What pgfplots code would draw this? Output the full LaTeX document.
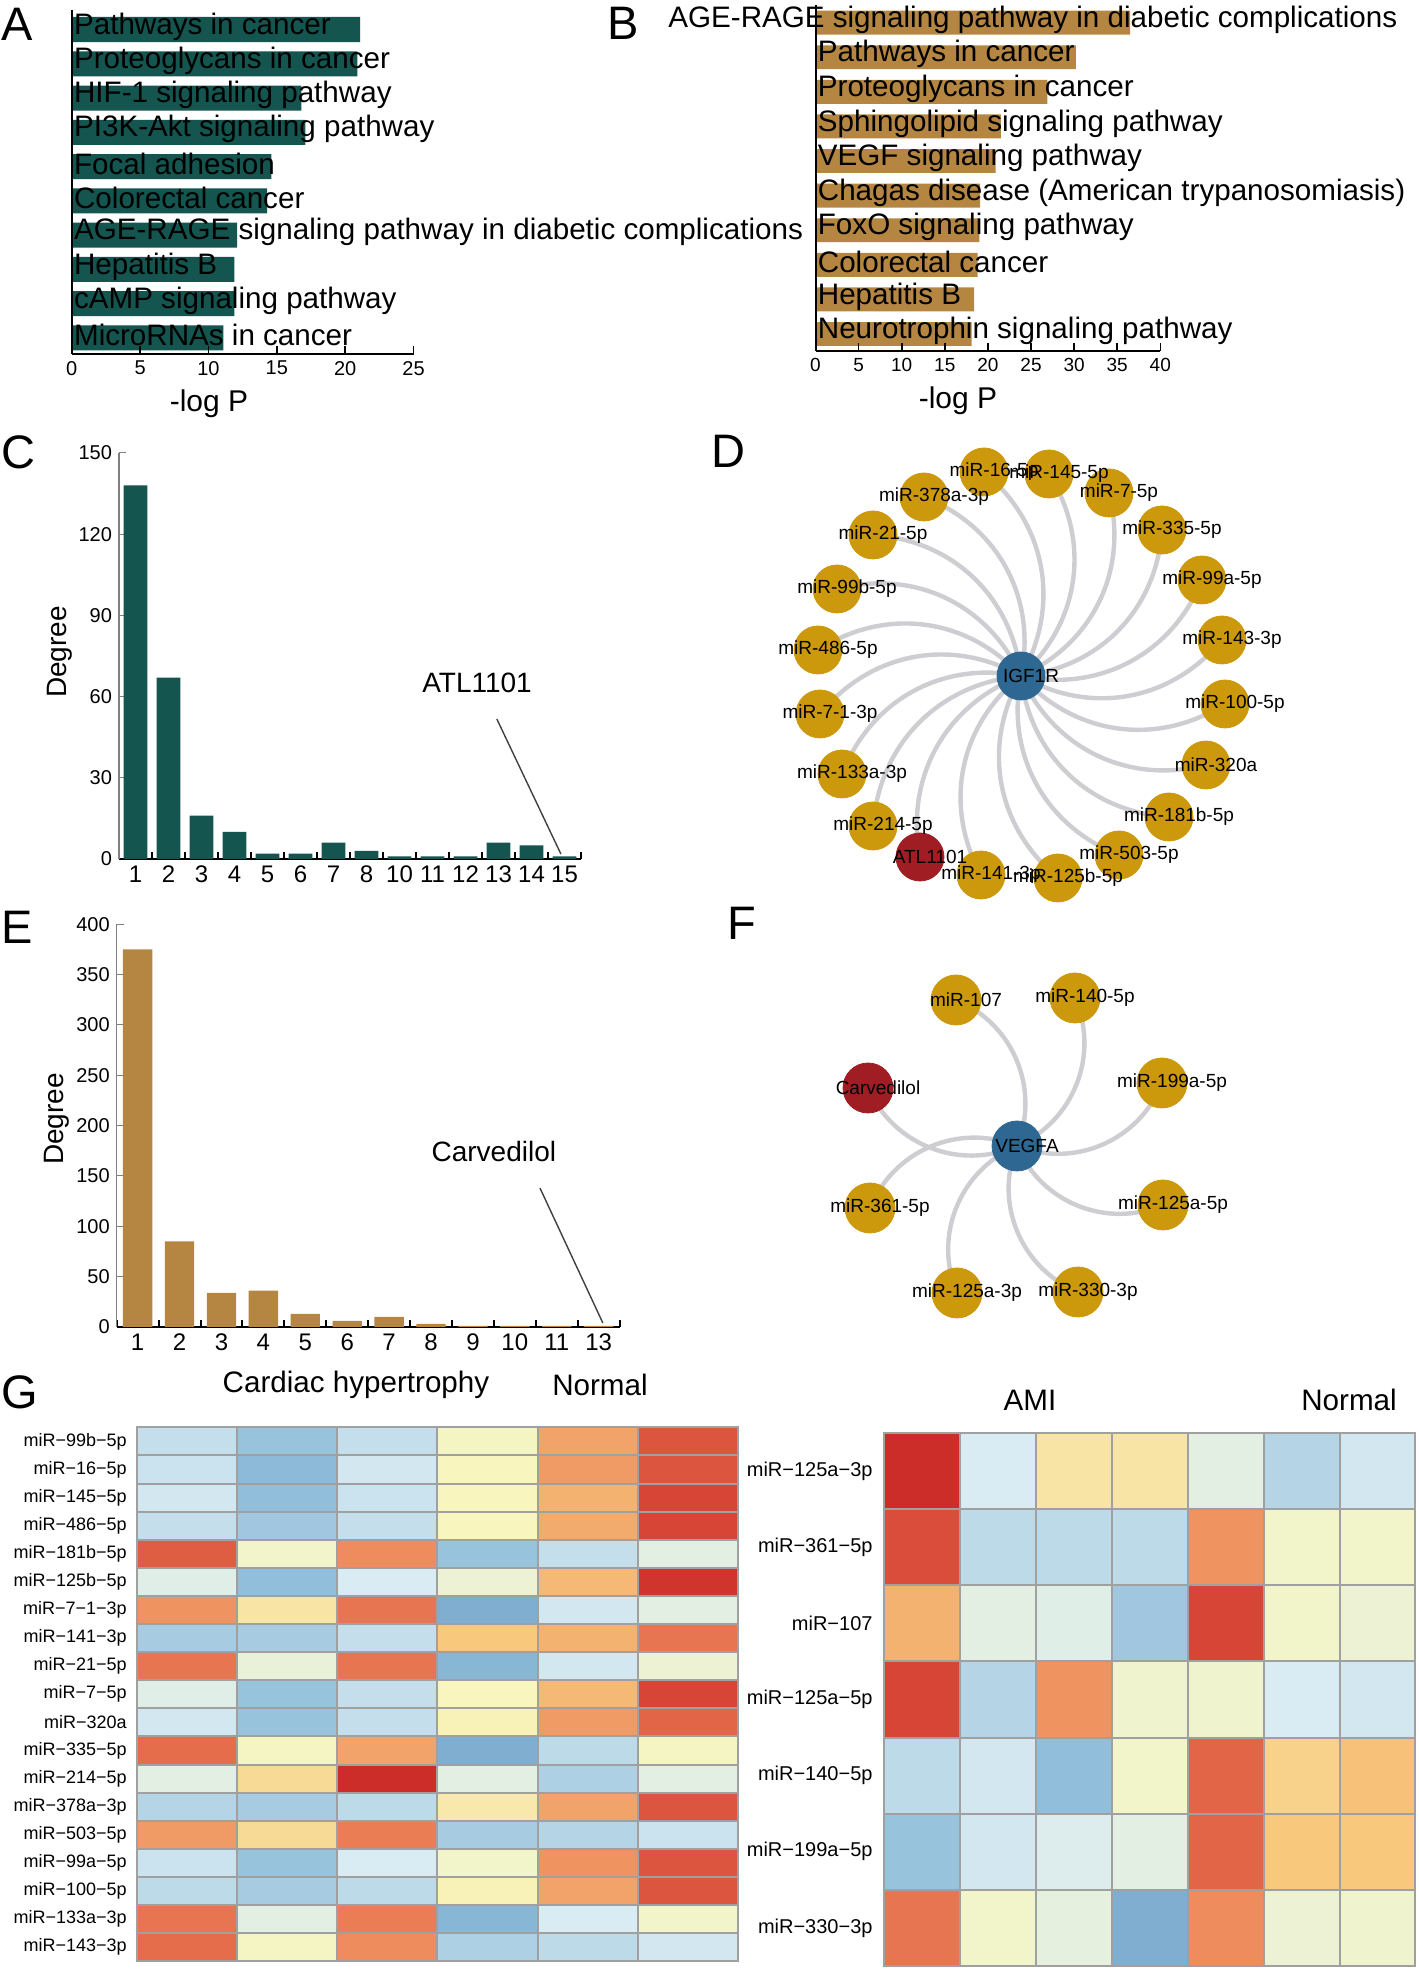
\documentclass[border=0pt]{standalone}
\usepackage{fontspec}
\setmainfont{Liberation Sans}
\usepackage{pgfplots}
\pgfplotsset{compat=1.18}
\definecolor{barA}{RGB}{20,85,80}
\definecolor{barB}{RGB}{180,134,66}
\definecolor{gold}{RGB}{204,152,12}
\definecolor{nblue}{RGB}{46,104,146}
\definecolor{nred}{RGB}{160,30,35}
\definecolor{egray}{RGB}{205,205,210}
\definecolor{hgrid}{RGB}{160,160,160}
\pgfplotsset{colormap={hm}{rgb255=(100,150,195) rgb255=(145,190,218) rgb255=(218,236,243) rgb255=(248,246,190) rgb255=(248,200,125) rgb255=(235,125,85) rgb255=(205,45,40)}}
\pgfplotsset{/pgf/number format/assume math mode=true}
\newcommand{\fs}[1]{\fontsize{#1}{#1}\selectfont}

\begin{document}
\begin{tikzpicture}[x=0.5pt,y=0.5pt]
\useasboundingbox (0,0) rectangle (1418,1969);
\coordinate (pA) at (71.7,1615);
\coordinate (pB) at (815.5,1618);
\coordinate (pC) at (119,1110);
\coordinate (pE) at (116.7,642);
\coordinate (pD) at (700,1064);
\coordinate (pF) at (700,629);
\coordinate (pGL) at (136.8,7.7);
\coordinate (pGR) at (884.4,3);

% panel letters
\node[anchor=base west, inner sep=0, font=\fs{23.5}] at (1,1928) {A};
\node[anchor=base west, inner sep=0, font=\fs{23.5}] at (607,1929) {B};
\node[anchor=base west, inner sep=0, font=\fs{23.5}] at (1,1500) {C};
\node[anchor=base west, inner sep=0, font=\fs{23.5}] at (711,1501) {D};
\node[anchor=base west, inner sep=0, font=\fs{23.5}] at (1,1025) {E};
\node[anchor=base west, inner sep=0, font=\fs{23.5}] at (727,1029) {F};
\node[anchor=base west, inner sep=0, font=\fs{23.5}] at (1,560) {G};

% ---------------- Panel A
\begin{axis}[
  at={(pA)}, anchor=south west, scale only axis,
  width=170.9pt, height=172pt,
  xbar, bar width=0.73,
  xmin=0, xmax=25, ymin=0.53, ymax=10.57,
  axis x line*=bottom, axis y line*=left,
  axis line style={black, line width=1pt},
  axis on top,
  tick align=inside, major tick length=4pt,
  xtick={0,5,...,25},
  xtick style={black, line width=0.8pt},
  ytick={1,...,10},
  yticklabels={MicroRNAs in cancer, cAMP signaling pathway, Hepatitis B, AGE-RAGE signaling pathway in diabetic complications, Colorectal cancer, Focal adhesion, PI3K-Akt signaling pathway, HIF-1 signaling pathway, Proteoglycans in cancer, Pathways in cancer},
  ytick style={draw=none},
  yticklabel style={anchor=west, inner sep=1pt, font=\fs{14.8}, yshift=1.5pt},
  xticklabel style={font=\fs{10}},
]
\addplot[fill=barA, draw=none] coordinates {(11.1,1) (11.9,2) (11.9,3) (12.1,4) (14.3,5) (14.6,6) (17.1,7) (16.8,8) (20.9,9) (21.1,10)};
\end{axis}
\node[font=\fs{15}] at (209,1565) {-log P};

% ---------------- Panel B
\begin{axis}[
  at={(pB)}, anchor=south west, scale only axis,
  width=172.4pt, height=173pt,
  xbar, bar width=0.69,
  xmin=0, xmax=40, ymin=0.51, ymax=10.51,
  axis x line*=bottom, axis y line*=left,
  axis line style={black, line width=1pt},
  axis on top,
  tick align=inside, major tick length=4pt,
  xtick={0,5,...,40},
  xtick style={black, line width=0.8pt},
  ytick={1,...,10},
  yticklabels={Neurotrophin signaling pathway, Hepatitis B, Colorectal cancer, FoxO signaling pathway, Chagas disease (American trypanosomiasis), VEGF signaling pathway, Sphingolipid signaling pathway, Proteoglycans in cancer, Pathways in cancer, {\hspace*{-74.75pt}AGE-RAGE signaling pathway in diabetic complications}},
  ytick style={draw=none},
  yticklabel style={anchor=west, inner sep=1pt, font=\fs{14.8}, yshift=1.5pt},
  xticklabel style={font=\fs{9.5}},
]
\addplot[fill=barB, draw=none] coordinates {(18.1,1) (18.4,2) (18.8,3) (19.0,4) (19.1,5) (20.9,6) (21.5,7) (26.9,8) (30.2,9) (36.5,10)};
\end{axis}
\node[font=\fs{15}] at (958,1568) {-log P};

% ---------------- Panel C
\begin{axis}[
  at={(pC)}, anchor=south west, scale only axis,
  width=231pt, height=203pt,
  ybar, bar width=0.72,
  xmin=0.5, xmax=14.5, ymin=0, ymax=150,
  axis x line*=bottom, axis y line*=left,
  x axis line style={black, line width=1.2pt},
  y axis line style={gray, line width=0.6pt},
  tick align=inside, major tick length=0pt, minor tick length=3.5pt,
  xtick={1,...,14}, xticklabels={1,2,3,4,5,6,7,8,10,11,12,13,14,15},
  minor xtick={0.5,1.5,...,14.5},
  ytick={0,30,...,150}, minor ytick={0,30,...,150},
  xtick style={black, line width=1pt},
  ytick style={gray, line width=0.5pt},
  xticklabel style={font=\fs{12}},
  yticklabel style={font=\fs{10}},
  clip=false,
]
\addplot[fill=barA, draw=none] coordinates {(1,138) (2,67) (3,16) (4,10) (5,2) (6,2) (7,6) (8,3) (9,1) (10,1) (11,1) (12,6) (13,5) (14,1)};
\draw[black!75, line width=0.7pt] (axis cs:11.95,51.7) -- (axis cs:13.89,1.85);
\node[font=\fs{14}] at (axis cs:11.35,65) {ATL1101};
\end{axis}
\node[rotate=90, font=\fs{14}] at (60,1317) {Degree};

% ---------------- Panel E
\begin{axis}[
  at={(pE)}, anchor=south west, scale only axis,
  width=251.45pt, height=201.35pt,
  ybar, bar width=0.70,
  xmin=0.5, xmax=12.5, ymin=0, ymax=400,
  axis x line*=bottom, axis y line*=left,
  x axis line style={black, line width=1.2pt},
  y axis line style={gray, line width=0.6pt},
  tick align=inside, major tick length=0pt, minor tick length=3.5pt,
  xtick={1,...,12}, xticklabels={1,2,3,4,5,6,7,8,9,10,11,13},
  minor xtick={0.5,1.5,...,12.5},
  ytick={0,50,...,400}, minor ytick={0,50,...,400},
  xtick style={black, line width=1pt},
  ytick style={gray, line width=0.5pt},
  xticklabel style={font=\fs{12}},
  yticklabel style={font=\fs{10}},
  clip=false,
]
\addplot[fill=barB, draw=none] coordinates {(1,375) (2,85) (3,34) (4,36) (5,13) (6,6) (7,10) (8,3) (9,1) (10,1) (11,1) (12,1)};
\draw[black!75, line width=0.7pt] (axis cs:10.60,138) -- (axis cs:12.1,4);
\node[font=\fs{14}] at (axis cs:9.5,174) {Carvedilol};
\end{axis}
\node[rotate=90, font=\fs{14}] at (57,850) {Degree};

% ---------------- Panel D (network)
\begin{axis}[
  at={(pD)}, anchor=south west, scale only axis,
  width=359pt, height=239pt,
  xmin=700, xmax=1418, ymin=1064, ymax=1542,
  hide axis, clip=false,
]
\draw[egray, line width=2.2pt] (axis cs:1021,1293) to[bend right=40] (axis cs:984,1497);
\draw[egray, line width=2.2pt] (axis cs:1021,1293) to[bend right=40] (axis cs:1049,1495);
\draw[egray, line width=2.2pt] (axis cs:1021,1293) to[bend right=40] (axis cs:1109,1476);
\draw[egray, line width=2.2pt] (axis cs:1021,1293) to[bend right=40] (axis cs:1162,1439);
\draw[egray, line width=2.2pt] (axis cs:1021,1293) to[bend right=40] (axis cs:1202,1389);
\draw[egray, line width=2.2pt] (axis cs:1021,1293) to[bend right=40] (axis cs:1222,1329);
\draw[egray, line width=2.2pt] (axis cs:1021,1293) to[bend right=40] (axis cs:1225,1265);
\draw[egray, line width=2.2pt] (axis cs:1021,1293) to[bend right=40] (axis cs:1206,1204);
\draw[egray, line width=2.2pt] (axis cs:1021,1293) to[bend right=40] (axis cs:1169,1152);
\draw[egray, line width=2.2pt] (axis cs:1021,1293) to[bend right=40] (axis cs:1119,1114);
\draw[egray, line width=2.2pt] (axis cs:1021,1293) to[bend right=40] (axis cs:1058,1091);
\draw[egray, line width=2.2pt] (axis cs:1021,1293) to[bend right=40] (axis cs:981,1094);
\draw[egray, line width=2.2pt] (axis cs:1021,1293) to[bend right=40] (axis cs:920,1112);
\draw[egray, line width=2.2pt] (axis cs:1021,1293) to[bend right=40] (axis cs:873,1143);
\draw[egray, line width=2.2pt] (axis cs:1021,1293) to[bend right=40] (axis cs:842,1195);
\draw[egray, line width=2.2pt] (axis cs:1021,1293) to[bend right=40] (axis cs:820,1255);
\draw[egray, line width=2.2pt] (axis cs:1021,1293) to[bend right=40] (axis cs:818,1319);
\draw[egray, line width=2.2pt] (axis cs:1021,1293) to[bend right=40] (axis cs:837,1380);
\draw[egray, line width=2.2pt] (axis cs:1021,1293) to[bend right=40] (axis cs:873,1434);
\draw[egray, line width=2.2pt] (axis cs:1021,1293) to[bend right=40] (axis cs:924,1472);
\addplot[only marks, mark=*, mark size=12pt, gold] coordinates {
(984,1497) (1049,1495) (1109,1476) (1162,1439) (1202,1389) (1222,1329) (1225,1265) (1206,1204) (1169,1152) (1119,1114) (1058,1091) (981,1094) (873,1143) (842,1195) (820,1255) (818,1319) (837,1380) (873,1434) (924,1472)};
\addplot[only marks, mark=*, mark size=12pt, nred] coordinates {(920,1112)};
\addplot[only marks, mark=*, mark size=12pt, nblue] coordinates {(1021,1293)};
\addplot[draw=none, mark=none, nodes near coords, point meta=explicit symbolic,
  nodes near coords style={anchor=center, text=black, font=\fs{9.5}, xshift=5pt}]
  table[meta=lab] {
x y lab
1021 1293 IGF1R
984 1497 miR-16-5p
1049 1495 miR-145-5p
1109 1476 miR-7-5p
1162 1439 miR-335-5p
1202 1389 miR-99a-5p
1222 1329 miR-143-3p
1225 1265 miR-100-5p
1206 1204 miR-320a
1169 1152 miR-181b-5p
1119 1114 miR-503-5p
1058 1091 miR-125b-5p
981 1094 miR-141-3p
920 1112 ATL1101
873 1143 miR-214-5p
842 1195 miR-133a-3p
820 1255 miR-7-1-3p
818 1319 miR-486-5p
837 1380 miR-99b-5p
873 1434 miR-21-5p
924 1472 miR-378a-3p
};
\end{axis}

% ---------------- Panel F (network)
\begin{axis}[
  at={(pF)}, anchor=south west, scale only axis,
  width=359pt, height=217.5pt,
  xmin=700, xmax=1418, ymin=629, ymax=1064,
  hide axis, clip=false,
]
\draw[egray, line width=2.2pt] (axis cs:1017,823) to[bend right=45] (axis cs:956,969);
\draw[egray, line width=2.2pt] (axis cs:1017,823) to[bend right=45] (axis cs:1075,971);
\draw[egray, line width=2.2pt] (axis cs:1017,823) to[bend right=45] (axis cs:1162,886);
\draw[egray, line width=2.2pt] (axis cs:1017,823) to[bend left=45] (axis cs:868,881);
\draw[egray, line width=2.2pt] (axis cs:1017,823) to[bend right=45] (axis cs:870,761);
\draw[egray, line width=2.2pt] (axis cs:1017,823) to[bend right=45] (axis cs:1163,764);
\draw[egray, line width=2.2pt] (axis cs:1017,823) to[bend right=45] (axis cs:957,676);
\draw[egray, line width=2.2pt] (axis cs:1017,823) to[bend right=45] (axis cs:1078,677);
\addplot[only marks, mark=*, mark size=12.5pt, gold] coordinates {
(956,969) (1075,971) (1162,886) (870,761) (1163,764) (957,676) (1078,677)};
\addplot[only marks, mark=*, mark size=12.5pt, nred] coordinates {(868,881)};
\addplot[only marks, mark=*, mark size=12.5pt, nblue] coordinates {(1017,823)};
\addplot[draw=none, mark=none, nodes near coords, point meta=explicit symbolic,
  nodes near coords style={anchor=center, text=black, font=\fs{9.5}, xshift=5pt}]
  table[meta=lab] {
x y lab
1017 823 VEGFA
956 969 miR-107
1075 971 miR-140-5p
1162 886 miR-199a-5p
868 881 Carvedilol
870 761 miR-361-5p
1163 764 miR-125a-5p
957 676 miR-125a-3p
1078 677 miR-330-3p
};
\end{axis}

% ---------------- Panel G left heatmap
\node[font=\fs{14.8}] at (356,584) {Cardiac hypertrophy};
\node[font=\fs{14.8}] at (600,584) {Normal};
\begin{axis}[
  at={(pGL)}, anchor=south west, scale only axis,
  width=300.6pt, height=267pt,
  xmin=0.5, xmax=6.5, ymin=0.5, ymax=19.5, y dir=reverse,
  colormap name=hm, point meta min=0, point meta max=6,
  axis on top,
  xtick={0.5,1.5,...,6.5}, xticklabels={},
  ytick={1,...,19},
  yticklabels={miR−99b−5p, miR−16−5p, miR−145−5p, miR−486−5p, miR−181b−5p, miR−125b−5p, miR−7−1−3p, miR−141−3p, miR−21−5p, miR−7−5p, miR−320a, miR−335−5p, miR−214−5p, miR−378a−3p, miR−503−5p, miR−99a−5p, miR−100−5p, miR−133a−3p, miR−143−3p},
  minor ytick={1.5,2.5,...,18.5},
  xmajorgrids=true, yminorgrids=true,
  major grid style={hgrid, line width=1pt},
  minor grid style={hgrid, line width=1pt},
  axis line style={hgrid, line width=1pt},
  major tick length=0pt, minor tick length=0pt,
  yticklabel style={font=\fs{9}, xshift=-1.5pt},
]
\addplot[matrix plot*, mesh/cols=6, point meta=explicit] table[meta=c] {
x y c
1 1 1.7
2 1 1.1
3 1 1.7
4 1 2.9
5 1 4.5
6 1 5.5
1 2 1.8
2 2 0.9
3 2 1.9
4 2 3.0
5 2 4.6
6 2 5.5
1 3 1.9
2 3 1.0
3 3 1.8
4 3 3.0
5 3 4.3
6 3 5.7
1 4 1.7
2 4 1.2
3 4 1.7
4 4 3.0
5 4 4.4
6 4 5.7
1 5 5.4
2 5 2.8
3 5 4.8
4 5 1.1
5 5 1.7
6 5 2.3
1 6 2.2
2 6 1.0
3 6 2.0
4 6 2.6
5 6 4.2
6 6 5.9
1 7 4.7
2 7 3.4
3 7 5.1
4 7 0.6
5 7 1.9
6 7 2.3
1 8 1.3
2 8 1.3
3 8 1.7
4 8 4.0
5 8 4.3
6 8 5.1
1 9 5.1
2 9 2.5
3 9 5.1
4 9 0.8
5 9 1.9
6 9 2.6
1 10 2.2
2 10 1.1
3 10 1.7
4 10 3.0
5 10 4.2
6 10 5.7
1 11 1.9
2 11 1.1
3 11 1.7
4 11 3.1
5 11 4.6
6 11 5.3
1 12 5.2
2 12 2.9
3 12 4.5
4 12 0.6
5 12 1.6
6 12 2.9
1 13 2.3
2 13 3.6
3 13 6.0
4 13 2.3
5 13 1.4
6 13 2.3
1 14 1.5
2 14 1.3
3 14 1.6
4 14 3.3
5 14 4.5
6 14 5.5
1 15 4.6
2 15 3.6
3 15 5.0
4 15 1.3
5 15 1.5
6 15 1.8
1 16 1.8
2 16 1.1
3 16 2.0
4 16 2.8
5 16 4.7
6 16 5.5
1 17 1.6
2 17 1.3
3 17 1.6
4 17 3.1
5 17 4.5
6 17 5.5
1 18 5.1
2 18 2.3
3 18 5.0
4 18 0.8
5 18 2.0
6 18 2.8
1 19 5.2
2 19 2.9
3 19 4.8
4 19 1.4
5 19 1.6
6 19 1.9
};
\end{axis}

% ---------------- Panel G right heatmap
\node[font=\fs{14.8}] at (1030,569) {AMI};
\node[font=\fs{14.8}] at (1349,569) {Normal};
\begin{axis}[
  at={(pGR)}, anchor=south west, scale only axis,
  width=265.5pt, height=266.5pt,
  xmin=0.5, xmax=7.5, ymin=0.5, ymax=7.5, y dir=reverse,
  colormap name=hm, point meta min=0, point meta max=6,
  axis on top,
  xtick={0.5,1.5,...,7.5}, xticklabels={},
  ytick={1,...,7},
  yticklabels={miR−125a−3p, miR−361−5p, miR−107, miR−125a−5p, miR−140−5p, miR−199a−5p, miR−330−3p},
  minor ytick={1.5,2.5,...,6.5},
  xmajorgrids=true, yminorgrids=true,
  major grid style={hgrid, line width=1pt},
  minor grid style={hgrid, line width=1pt},
  axis line style={hgrid, line width=1pt},
  major tick length=0pt, minor tick length=0pt,
  yticklabel style={font=\fs{10}, xshift=-2.4pt},
]
\addplot[matrix plot*, mesh/cols=7, point meta=explicit] table[meta=c] {
x y c
1 1 6.0
2 1 2.0
3 1 3.4
4 1 3.4
5 1 2.3
6 1 1.5
7 1 1.9
1 2 5.6
2 2 1.6
3 2 1.6
4 2 1.6
5 2 4.7
6 2 2.8
7 2 2.8
1 3 4.3
2 3 2.3
3 3 2.2
4 3 1.2
5 3 5.7
6 3 2.8
7 3 2.6
1 4 5.7
2 4 1.5
3 4 4.7
4 4 2.7
5 4 2.7
6 4 2.0
7 4 1.9
1 5 1.6
2 5 1.9
3 5 1.0
4 5 2.8
5 5 5.3
6 5 3.8
7 5 4.1
1 6 1.1
2 6 1.9
3 6 2.1
4 6 2.3
5 6 5.3
6 6 4.0
7 6 4.0
1 7 5.1
2 7 2.8
3 7 2.4
4 7 0.6
5 7 4.8
6 7 2.6
7 7 2.7
};
\end{axis}

\end{tikzpicture}
\end{document}
